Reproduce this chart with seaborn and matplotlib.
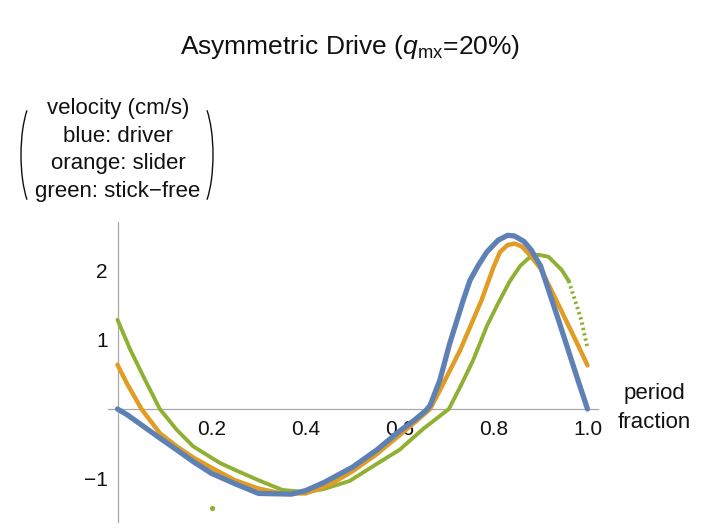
import numpy as np
import pandas as pd
import matplotlib
matplotlib.use('Agg')
import matplotlib.pyplot as plt
from matplotlib.patches import Arc
from matplotlib.ticker import MultipleLocator, FixedLocator, FixedFormatter
import seaborn as sns

# values
driver_x = [0, 0.02, 0.055, 0.09, 0.126, 0.161, 0.20, 0.25, 0.30, 0.37, 0.40, 0.44, 0.50,
            0.55, 0.60, 0.63, 0.655, 0.665, 0.686, 0.707, 0.736, 0.75, 0.768, 0.786, 0.81,
            0.83, 0.845, 0.865, 0.88, 0.90, 0.92, 0.94, 0.96, 0.98, 1.0]
driver_v = [0.0, -0.08, -0.25, -0.42, -0.59, -0.76, -0.93, -1.08, -1.22, -1.23, -1.18,
            -1.06, -0.84, -0.60, -0.32, -0.17, -0.03, 0.05, 0.42, 0.95, 1.58, 1.86, 2.08,
            2.27, 2.44, 2.51, 2.50, 2.42, 2.30, 2.07, 1.66, 1.25, 0.83, 0.41, 0.0]

slider_x = [0, 0.02, 0.051, 0.09, 0.126, 0.161, 0.20, 0.25, 0.30, 0.35, 0.40, 0.45, 0.50,
            0.55, 0.60, 0.64, 0.665, 0.686, 0.729, 0.775, 0.80, 0.814, 0.83, 0.845, 0.86,
            0.878, 0.90, 0.92, 0.94, 0.96, 0.98, 1.0]
slider_v = [0.64, 0.37, 0.0, -0.35, -0.54, -0.70, -0.85, -1.03, -1.15, -1.22, -1.22,
            -1.10, -0.90, -0.66, -0.38, -0.15, 0.0, 0.27, 0.85, 1.58, 2.05, 2.27, 2.37,
            2.39, 2.35, 2.22, 2.03, 1.76, 1.48, 1.20, 0.92, 0.63]

free_x = [0, 0.027, 0.055, 0.09, 0.126, 0.161, 0.218, 0.25, 0.30, 0.351, 0.40, 0.437,
          0.494, 0.55, 0.60, 0.65, 0.705, 0.73, 0.757, 0.786, 0.81, 0.835, 0.857, 0.875,
          0.895, 0.917, 0.945, 0.96]
free_v = [1.29, 0.86, 0.47, 0.0, -0.30, -0.54, -0.78, -0.88, -1.03, -1.17, -1.20, -1.16,
          -1.04, -0.80, -0.59, -0.29, 0.0, 0.33, 0.71, 1.20, 1.53, 1.85, 2.07, 2.18, 2.23,
          2.20, 2.01, 1.85]
# sparse tail of the stick-free points
free_tail_x = [0.96, 0.973, 0.987, 1.0]
free_tail_v = [1.85, 1.58, 1.28, 0.88]
stray_x = [0.2]
stray_v = [-1.43]

x_ticks = [0.2, 0.4, 0.6, 0.8, 1.0]
x_labels = ['0.2', '0.4', '0.6', '0.8', '1.0']
y_ticks = [-1, 1, 2]
y_labels = ['\u22121', '1', '2']

blue, orange, green = '#5e81b5', '#e19c24', '#8fb032'

sns.set_style('white')
plt.rcParams['font.family'] = ['Liberation Sans', 'DejaVu Sans']
plt.rcParams['mathtext.fontset'] = 'custom'
plt.rcParams['mathtext.rm'] = 'Liberation Sans'
plt.rcParams['mathtext.it'] = 'Liberation Sans:italic'

fig = plt.figure(figsize=(7.13, 5.30), dpi=100)
ax = fig.add_axes([108 / 713, 1 - 521.7 / 530, 490 / 713, 300 / 530])

df_d = pd.DataFrame({'x': driver_x, 'v': driver_v})
df_s = pd.DataFrame({'x': slider_x, 'v': slider_v})
df_f = pd.DataFrame({'x': free_x, 'v': free_v})
df_t = pd.DataFrame({'x': free_tail_x, 'v': free_tail_v})

sns.lineplot(data=df_f, x='x', y='v', color=green, linewidth=2.8, sort=False, ax=ax, zorder=3)
sns.lineplot(data=df_t, x='x', y='v', color=green, linewidth=2.8, sort=False, ax=ax,
             linestyle=(0, (0.6, 0.8)), zorder=3)
sns.scatterplot(x=stray_x, y=stray_v, color=green, s=14, linewidth=0, ax=ax, zorder=3)
sns.lineplot(data=df_s, x='x', y='v', color=orange, linewidth=3.2, sort=False, ax=ax, zorder=4)
sns.lineplot(data=df_d, x='x', y='v', color=blue, linewidth=3.8, sort=False, ax=ax, zorder=5)

ax.set_xlim((108 - 117.5) / 470, (598 - 117.5) / 470)
ax.set_ylim((409 - 521.7) / 69.2, (409 - 221.7) / 69.2)
ax.set_xlabel('')
ax.set_ylabel('')

for s in ['top', 'right']:
    ax.spines[s].set_visible(False)
ax.spines['left'].set_position(('data', 0))
ax.spines['bottom'].set_position(('data', 0))
for s in ['left', 'bottom']:
    ax.spines[s].set_color('#a8a8a8')
    ax.spines[s].set_linewidth(0.9)

ax.xaxis.set_major_locator(FixedLocator(x_ticks))
ax.xaxis.set_major_formatter(FixedFormatter(x_labels))
ax.yaxis.set_major_locator(FixedLocator(y_ticks))
ax.yaxis.set_major_formatter(FixedFormatter(y_labels))
ax.xaxis.set_minor_locator(MultipleLocator(0.05))
ax.yaxis.set_minor_locator(MultipleLocator(0.2))
ax.tick_params(which='both', direction='in', color='#a8a8a8', width=0.8,
               labelsize=15, labelcolor='#111111')
ax.tick_params(which='major', length=5)
ax.tick_params(which='minor', length=3)
ax.tick_params(axis='x', pad=8)
ax.tick_params(axis='y', pad=7)

fig.text(350 / 713, 1 - 47 / 530, r'Asymmetric Drive ($q_{\mathrm{mx}}$=20%)',
         ha='center', va='center', fontsize=19, color='#111111')
fig.text(118 / 713, 1 - 150 / 530,
         'velocity (cm/s)\nblue: driver\norange: slider\ngreen: stick\u2212free',
         ha='center', va='center', fontsize=16, linespacing=1.40, color='#111111')
fig.text(654 / 713, 1 - 408 / 530, 'period\nfraction', ha='center', va='center',
         fontsize=16, linespacing=1.55, color='#111111')

# parentheses around the axis label (angles are apparent angles on the ellipse)
fig.patches.append(Arc((39 / 713, 1 - 155 / 530), 36 / 713, 120 / 530, theta1=101.3,
                       theta2=258.7, transform=fig.transFigure, color='#111111', lw=1.0))
fig.patches.append(Arc((195 / 713, 1 - 155 / 530), 36 / 713, 120 / 530, theta1=-78.7,
                       theta2=78.7, transform=fig.transFigure, color='#111111', lw=1.0))

fig.savefig('out.png', dpi=100)
